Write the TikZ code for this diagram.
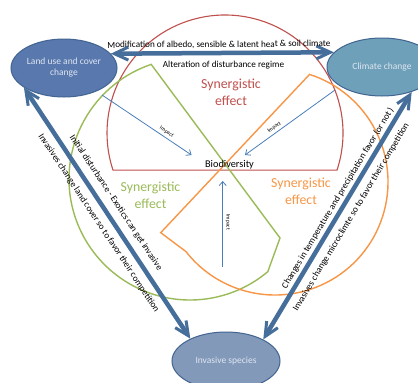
\documentclass[tikz,border=0pt]{standalone}
\usepackage{fontspec}
\setmainfont{Carlito}
\usetikzlibrary{arrows.meta,shapes.geometric}
\definecolor{redc}{RGB}{192,80,77}
\definecolor{greenc}{RGB}{155,187,89}
\definecolor{orangec}{RGB}{247,150,70}
\definecolor{bigblue}{RGB}{70,110,155}
\definecolor{thinblue}{RGB}{74,126,187}
\definecolor{landfill}{RGB}{89,120,174}
\definecolor{climfill}{RGB}{111,160,185}
\definecolor{invfill}{RGB}{130,153,186}
\definecolor{ellborder}{RGB}{65,100,145}
\definecolor{elltext}{RGB}{222,230,240}
\tikzset{
  bigell/.style={ellipse, draw=ellborder, line width=1pt, text=elltext, align=center, inner sep=0pt, font=\fontsize{9.5}{11}\selectfont},
  bigarrow/.style={draw=bigblue, line width=4.5pt, arrows={Straight Barb[length=14pt,width=13pt,line width=3pt]-Straight Barb[length=14pt,width=13pt,line width=3pt]}},
  imparrow/.style={draw=thinblue, line width=0.8pt, arrows={-Straight Barb[length=4pt,width=7pt]}},
  impback/.style={draw=thinblue, line width=0.8pt, arrows={Straight Barb[length=4pt,width=7pt]-}},
  implbl/.style={font=\fontsize{5.5}{6}\selectfont, inner sep=0pt, text=black, sloped, anchor=south, outer ysep=3pt},
  txt/.style={font=\fontsize{9.2}{11}\selectfont, inner sep=0pt, text=black},
  upper/.style={txt, sloped, anchor=south, outer ysep=#1},
  lower/.style={txt, sloped, anchor=north, outer ysep=#1},
  syn/.style={font=\fontsize{13.8}{17}\selectfont, align=center, inner sep=0pt},
  shapeline/.style={line width=1.4pt},
}
\begin{document}
\begin{tikzpicture}[x=1pt,y=-1pt]
\useasboundingbox (0,0) rectangle (418,383);
\clip (0,0) rectangle (418,383);
\fill[white] (0,0) rectangle (418,383);

% overlapping shapes
\draw[redc, line width=1.1pt] (225,133) ++(18.3:118) arc[start angle=18.3, end angle=-198.3, radius=118] -- cycle;
\draw[greenc, shapeline] (190,179) ++(251.3:121) arc[start angle=251.3, end angle=50, radius=121] -- (280,238) -- cycle;
\draw[orangec, shapeline] (275,182) ++(-72.2:113) arc[start angle=-72.2, end angle=142, radius=113] -- (160.7,232.7) -- cycle;

% main ellipses
\node[bigell, fill=landfill, minimum width=106pt, minimum height=58pt] (landuse) at (64,68) {Land use and cover\\change};
\node[bigell, fill=climfill, minimum width=110pt, minimum height=58pt] (climate) at (382,67) {Climate change};
\node[bigell, fill=invfill, minimum width=108pt, minimum height=58pt] (invasive) at (226,361) {Invasive species};

% texts
\node[txt] (alt) at (223.5,65) {Alteration of disturbance regime};
\node[syn, text=redc] (synred) at (231,92) {Synergistic\\effect};
\node[syn, text=greenc] (syngreen) at (150.5,195) {Synergistic\\effect};
\node[syn, text=orangec] (synorange) at (301,191) {Synergistic\\effect};
\node[txt, font=\fontsize{10.3}{12}\selectfont] (bio) at (229.5,164.5) {Biodiversity};

% impact arrows
\coordinate (i1s) at (102,95);
\coordinate (i1e) at (191.5,155);
\coordinate (i2s) at (335,90);
\coordinate (i2e) at (245,155);
\coordinate (i3s) at (222.7,267);
\coordinate (i3e) at (222.7,181);
\draw[imparrow] (i1s) -- node[implbl, pos=0.69] {Impact} (i1e);
\draw[imparrow] (i2s) -- node[implbl, pos=0.64] {Impact} (i2e);
\draw[impback] (i3e) -- node[implbl, pos=0.48] {Impact} (i3s);

% big arrows
\draw[bigarrow] (landuse.17.7) -- node[upper=4.5pt, pos=0.485] {Modification of albedo, sensible \& latent heat \& soil climate} (climate.163.8);
\draw[bigarrow] (landuse.206) --
  node[upper=9pt, pos=0.487] {Initial disturbance - Exotics can get invasive}
  node[lower=8.6pt, pos=0.512] {Invasives change land cover so to favor their competition}
  (invasive.148.8);
\draw[bigarrow] (invasive.30.5) --
  node[upper=4.6pt, pos=0.553] {Changes in temperature and precipitation favor (or not )}
  node[lower=8.6pt, pos=0.52] {Invasives change microclimte so to favor their competition}
  (climate.-40.2);
\end{tikzpicture}
\end{document}
